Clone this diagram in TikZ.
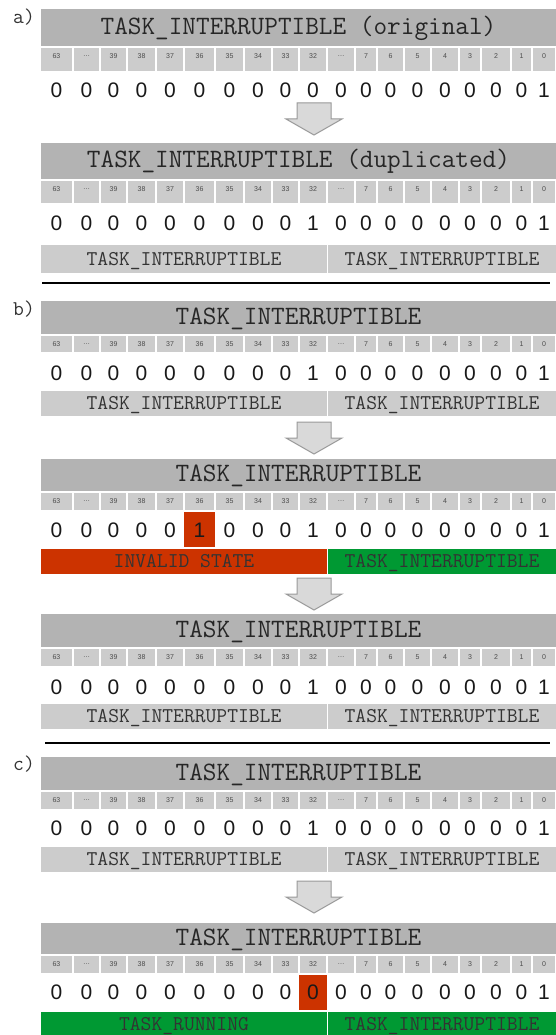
\documentclass[tikz,border=0pt]{standalone}
\usepackage{fontspec}
\newfontfamily\digitfont{Liberation Sans}

\definecolor{headgray}{HTML}{B3B3B3}
\definecolor{cellgray}{HTML}{CCCCCC}
\definecolor{arrowgray}{HTML}{D9D9D9}
\definecolor{invalidred}{HTML}{CC3300}
\definecolor{validgreen}{HTML}{009933}

\tikzset{
  regtitle/.style = {anchor = north west, fill = headgray, draw = white, line width = 1pt,
    inner sep = 0pt, minimum width = 516pt, text height = 16.2pt, text depth = 4pt,
    text = black!85, font = \ttfamily\fontsize{26.5}{26.5}\selectfont},
  bitcell/.style = {fill = cellgray, draw = white, line width = 1.5pt},
  bitlabel/.style = {inner sep = 0pt, text = black!70, font = \digitfont\fontsize{7}{7}\selectfont},
  bitvalue/.style = {inner sep = 0pt, text = black!90, font = \digitfont\fontsize{21}{21}\selectfont},
  statebox/.style = {anchor = north west, draw = white, line width = 1pt, inner sep = 0pt,
    text height = 12.8pt, text depth = 0pt, text = black!80,
    font = \ttfamily\fontsize{21}{21}\selectfont},
  flipped/.style = {fill = invalidred},
  partlabel/.style = {anchor = base, inner sep = 0pt, text = black!80,
    font = \ttfamily\fontsize{21}{21}\selectfont},
  separator/.style = {line width = 2.5pt},
  pics/downarrow/.style = {code = {
    \draw[fill = arrowgray, draw = black!40, line width = 1pt, line join = miter]
      (-17,0) -- (17,0) -- (17,16) -- (28,16) -- (0,32) -- (-28,16) -- (-17,16) -- cycle;
  }}
}

% bit number / left edge / right edge of every cell
\def\bitcells{63/40/73,{\dots}/73/100,39/100/127,38/127/156,37/156/184,36/184/215,35/215/244,%
  34/244/272,33/272/299,32/299/327,{\dots}/327/355,7/355/377,6/377/404,5/404/431,4/431/459,%
  3/459/481,2/481/511,1/511/532,0/532/556}
\def\cellmid{{56.5,86.5,113.5,141.5,170,199.5,229.5,258,285.5,313,341,366,390.5,417.5,445,470,496,521.5,544}}

% name, top, title height, bit row height, title
\newcommand{\register}[5]{%
  \node[regtitle, minimum height = #3pt] (#1) at (40,#2) {#5};
  \foreach \bitno/\xa/\xb [count = \i] in \bitcells {
    \draw[bitcell] (\xa,#2+#3) rectangle (\xb,#2+#3+#4);
    \node[bitlabel] (#1-b\i) at ({(\xa+\xb)/2},#2+#3+9) {\bitno};
  }
}

% name, y of the digits, the 19 values
\newcommand{\bitvalues}[3]{%
  \foreach \v [count = \i from 0] in {#3} {
    \pgfmathsetmacro\xm{\cellmid[\i]}
    \node[bitvalue] (#1-v\i) at (\xm,#2) {\v};
  }
}

% name, top, height, fill / text of the upper half, fill / text of the lower half
\newcommand{\statebar}[7]{%
  \node[statebox, fill = #4, minimum width = 287pt, minimum height = #3pt] (#1-upper) at (40,#2) {#5};
  \node[statebox, fill = #6, minimum width = 229pt, minimum height = #3pt] (#1-lower) at (327,#2) {#7};
}

\begin{document}
\begin{tikzpicture}[x = 1pt, y = -1pt]
\useasboundingbox (0,0) rectangle (556,1035);

% a) the state is copied into the upper half
\node[partlabel] (part-a) at (24,24) {a)};
\register{a1}{8}{39}{25}{TASK\_INTERRUPTIBLE (original)}
\bitvalues{a1}{90}{0,0,0,0,0,0,0,0,0,0,0,0,0,0,0,0,0,0,1}
\pic at (314,103) {downarrow};
\register{a2}{142}{38}{24}{TASK\_INTERRUPTIBLE (duplicated)}
\bitvalues{a2}{223}{0,0,0,0,0,0,0,0,0,1,0,0,0,0,0,0,0,0,1}
\statebar{a2}{244}{29}{cellgray}{TASK\_INTERRUPTIBLE}{cellgray}{TASK\_INTERRUPTIBLE}

\draw[separator] (42,283) -- (550,283);

% b) a flipped bit in the upper half is caught and repaired
\node[partlabel] (part-b) at (24,315) {b)};
\register{b1}{300}{35}{18}{TASK\_INTERRUPTIBLE}
\bitvalues{b1}{373}{0,0,0,0,0,0,0,0,0,1,0,0,0,0,0,0,0,0,1}
\statebar{b1}{390}{26}{cellgray}{TASK\_INTERRUPTIBLE}{cellgray}{TASK\_INTERRUPTIBLE}
\pic at (314,422) {downarrow};
\register{b2}{458}{34}{19}{TASK\_INTERRUPTIBLE}
\fill[flipped] (184,512) rectangle (215,547);
\bitvalues{b2}{530}{0,0,0,0,0,1,0,0,0,1,0,0,0,0,0,0,0,0,1}
\statebar{b2}{548}{26}{invalidred}{INVALID STATE}{validgreen}{TASK\_INTERRUPTIBLE}
\pic at (314,578) {downarrow};
\register{b3}{613}{35}{19}{TASK\_INTERRUPTIBLE}
\bitvalues{b3}{687}{0,0,0,0,0,0,0,0,0,1,0,0,0,0,0,0,0,0,1}
\statebar{b3}{703}{26}{cellgray}{TASK\_INTERRUPTIBLE}{cellgray}{TASK\_INTERRUPTIBLE}

\draw[separator] (45,743) -- (550,743);

% c) a flip that turns the upper half into another valid state
\node[partlabel] (part-c) at (24,770) {c)};
\register{c1}{756}{35}{19}{TASK\_INTERRUPTIBLE}
\bitvalues{c1}{828}{0,0,0,0,0,0,0,0,0,1,0,0,0,0,0,0,0,0,1}
\statebar{c1}{846}{26}{cellgray}{TASK\_INTERRUPTIBLE}{cellgray}{TASK\_INTERRUPTIBLE}
\pic at (314,881) {downarrow};
\register{c2}{922}{33}{19}{TASK\_INTERRUPTIBLE}
\fill[flipped] (299,975) rectangle (327,1010);
\bitvalues{c2}{992}{0,0,0,0,0,0,0,0,0,0,0,0,0,0,0,0,0,0,1}
\statebar{c2}{1011}{26}{validgreen}{TASK\_RUNNING}{validgreen}{TASK\_INTERRUPTIBLE}
\end{tikzpicture}
\end{document}
